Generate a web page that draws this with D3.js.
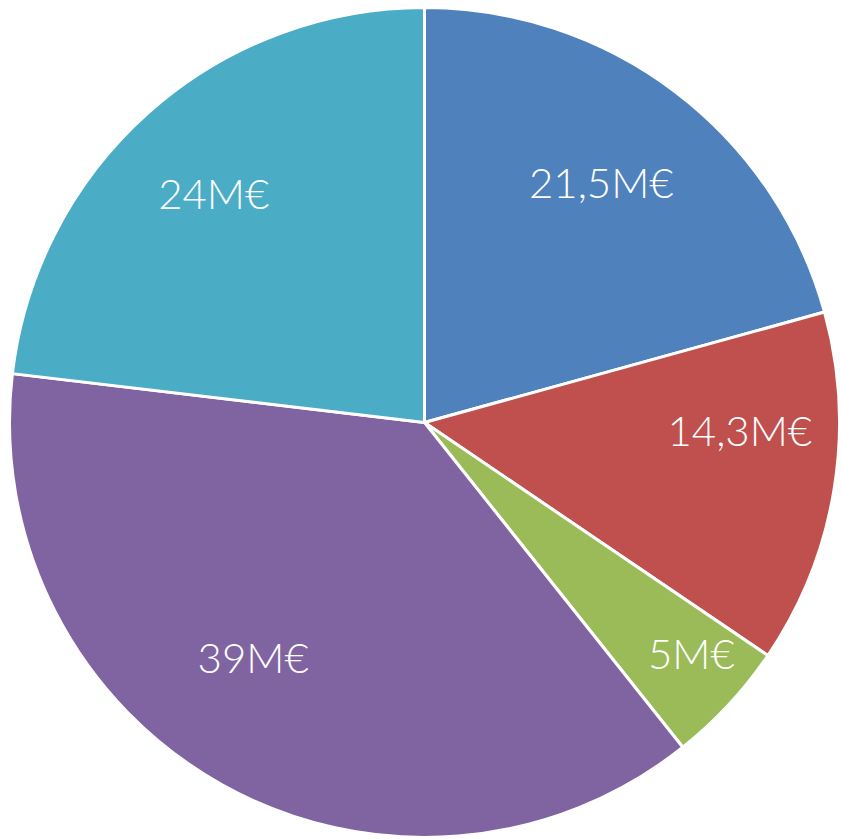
<!DOCTYPE html>
<html>
<head>
<meta charset="utf-8">
<script src="https://cdn.jsdelivr.net/npm/d3@7"></script>
<style>
html,body{margin:0;padding:0;background:#fff;}
svg{display:block;}
</style>
</head>
<body>
<script>
const categories = ["A", "B", "C", "D", "E"];
const values = [21.5, 14.3, 5, 39, 24];
const labels = ["21,5M€", "14,3M€", "5M€", "39M€", "24M€"];
const colors = ["#4F81BD", "#C0504D", "#9BBB59", "#8064A2", "#4BACC6"];
// label placement: radius fraction and angle nudge (degrees)
const labelRadius = [0.72, 0.76, 0.85, 0.70, 0.75];
const labelAngleNudge = [-1, -8, -2, 7, -1];

const W = 842, H = 839;
const cx = 424.5, cy = 422.5, R = 415;

const svg = d3.select("body").append("svg").attr("width", W).attr("height", H);
const g = svg.append("g").attr("transform", `translate(${cx},${cy})`);

const pie = d3.pie().value(d => d).sort(null);
const arcs = pie(values);
const arc = d3.arc().innerRadius(0).outerRadius(R);

g.selectAll("path").data(arcs).join("path")
  .attr("d", arc)
  .attr("fill", (d, i) => colors[i])
  .attr("stroke", "#fff")
  .attr("stroke-width", 3)
  .attr("stroke-linejoin", "round");

g.selectAll("text").data(arcs).join("text")
  .attr("transform", (d, i) => {
    const a = (d.startAngle + d.endAngle) / 2 + labelAngleNudge[i] * Math.PI / 180;
    const r = R * labelRadius[i];
    return `translate(${r * Math.sin(a)},${-r * Math.cos(a)})`;
  })
  .attr("text-anchor", "middle")
  .attr("dominant-baseline", "central")
  .attr("fill", "#fff")
  .style("font-family", "Lato, 'Open Sans', sans-serif")
  .style("font-weight", 300)
  .style("font-size", "42px")
  .text((d, i) => labels[i]);
</script>
</body>
</html>
